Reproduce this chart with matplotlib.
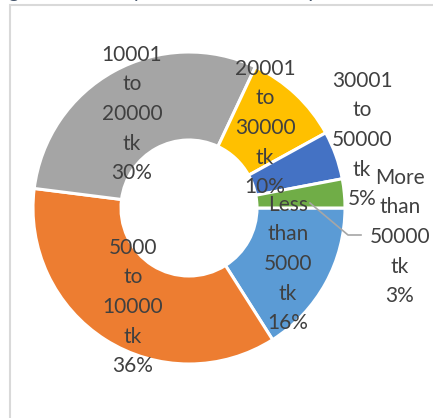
import matplotlib.pyplot as plt
from matplotlib.patches import Rectangle

categories = ["Less than 5000 tk", "5000 to 10000 tk", "10001 to 20000 tk",
              "20001 to 30000 tk", "30001 to 50000 tk", "More than 50000 tk"]
shares = [16, 36, 30, 10, 5, 3]
colors = ["#5B9BD5", "#ED7D31", "#A5A5A5", "#FFC000", "#4472C4", "#70AD47"]

# label block centres in pixels (x from left, y from top), like the Excel layout
label_pos = [(288, 264), (133, 307), (132, 114), (265, 128), (362, 140), (400, 237)]

W, H = 433, 418
fig = plt.figure(figsize=(W / 100, H / 100), dpi=100)
ax = fig.add_axes([0, 0, 1, 1])

cx, cy, r = 189, H - 208, 156
ax.pie(shares, colors=colors, startangle=0, counterclock=False,
       center=(cx, cy), radius=r, frame=True,
       wedgeprops=dict(width=r - 68, edgecolor="white", linewidth=2.2))
ax.set_xlim(0, W)
ax.set_ylim(0, H)
ax.set_aspect("equal")
ax.axis("off")

for cat, val, (x, y) in zip(categories, shares, label_pos):
    txt = "\n".join(cat.split(" ")) + "\n%d%%" % val
    ax.text(x, H - y, txt, ha="center", va="center", fontsize=15,
            family="Lato", color="#404040", linespacing=1.6, zorder=5)

# leader line for the small green slice
ax.plot([310, 348, 361], [H - 203, H - 235, H - 235], color="#A6A6A6", lw=1.2, zorder=4)

# chart area border and cut-off caption
ax.add_patch(Rectangle((10, -20), 600, H - 5 + 20, fill=False, edgecolor="#D9D9D9", lw=1.5))
ax.text(-8, H + 3, "Figure : Monthly income of the respondents", fontsize=15,
        family="Lato", color="#44546A", va="baseline", ha="left")

fig.savefig("out.png", dpi=100)
